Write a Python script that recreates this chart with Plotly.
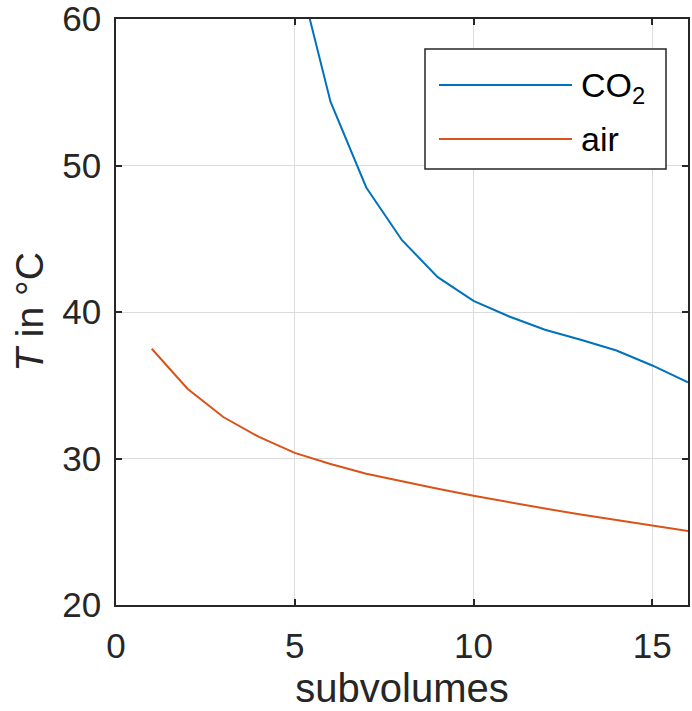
import plotly.graph_objects as go

# ---- data ----
x_air = [1, 2, 3, 4, 5, 6, 7, 8, 9, 10, 11, 12, 13, 14, 15, 16]
t_air = [37.49, 34.76, 32.83, 31.47, 30.38, 29.62, 28.96, 28.44, 27.94,
         27.46, 27.0, 26.58, 26.17, 25.78, 25.42, 25.05]
x_co2 = [5, 6, 7, 8, 9, 10, 11, 12, 13, 14, 15, 16]
t_co2 = [64.1, 54.36, 48.5, 44.9, 42.38, 40.76, 39.69, 38.79, 38.1, 37.37, 36.35, 35.2]

x_ticks = [0, 5, 10, 15]
y_ticks = [20, 30, 40, 50, 60]
series_names = ["CO<sub>2</sub>", "air"]
colors = ["#0072BD", "#D95319"]

TXT = "#262626"
FONT = "Arial, Liberation Sans, sans-serif"

fig = go.Figure()
fig.add_trace(go.Scatter(x=x_co2, y=t_co2, mode="lines", name=series_names[0],
                         line=dict(color=colors[0], width=2), showlegend=False))
fig.add_trace(go.Scatter(x=x_air, y=t_air, mode="lines", name=series_names[1],
                         line=dict(color=colors[1], width=2), showlegend=False))

axis_common = dict(
    showline=True, linecolor=TXT, linewidth=1.5, mirror="ticks",
    ticks="inside", ticklen=6, tickwidth=1.5, tickcolor=TXT,
    showgrid=True, gridcolor="#dcdcdc", gridwidth=1,
    zeroline=False, tickfont=dict(family=FONT, size=35, color=TXT),
    ticklabeloverflow="allow",
)

fig.update_xaxes(range=[0, 16], tickvals=x_ticks, ticklabelstandoff=9,
                 title=dict(text="subvolumes", font=dict(family=FONT, size=40, color=TXT), standoff=10),
                 **axis_common)
fig.update_yaxes(range=[20, 60], tickvals=y_ticks, ticklabelstandoff=6,
                 title=dict(text="<i>T</i> in °C", font=dict(family=FONT, size=39, color=TXT), standoff=7),
                 **axis_common)

# ---- legend box (drawn to mimic the MATLAB-style legend) ----
L, R, W, H = 116, 4, 692, 711
T, B = 19, 106
pw, ph = W - L - R, H - T - B

def px(xp):
    return (xp - L) / pw

def py(yp):
    return (H - B - yp) / ph

shapes = [dict(type="rect", xref="paper", yref="paper",
               x0=px(425), x1=px(666), y0=py(169), y1=py(49),
               line=dict(color=TXT, width=1.5), fillcolor="white", layer="above")]
annotations = []
for i, (name, col, yy) in enumerate(zip(series_names, colors, [85, 139])):
    shapes.append(dict(type="line", xref="paper", yref="paper",
                       x0=px(439), x1=px(572), y0=py(yy), y1=py(yy),
                       line=dict(color=col, width=2), layer="above"))
    annotations.append(dict(xref="paper", yref="paper", x=px(579), y=py(yy + (3 if i == 0 else 0)),
                            text=name, showarrow=False, xanchor="left", yanchor="middle",
                            font=dict(family=FONT, size=34, color="black")))

fig.update_layout(
    width=W, height=H,
    margin=dict(l=L, r=R, t=T, b=B, autoexpand=False),
    paper_bgcolor="white", plot_bgcolor="white",
    shapes=shapes, annotations=annotations,
    showlegend=False,
)

fig.write_html("out.html", config={"displayModeBar": False},
               post_script="document.body.style.margin='0';document.body.style.overflow='hidden';")
